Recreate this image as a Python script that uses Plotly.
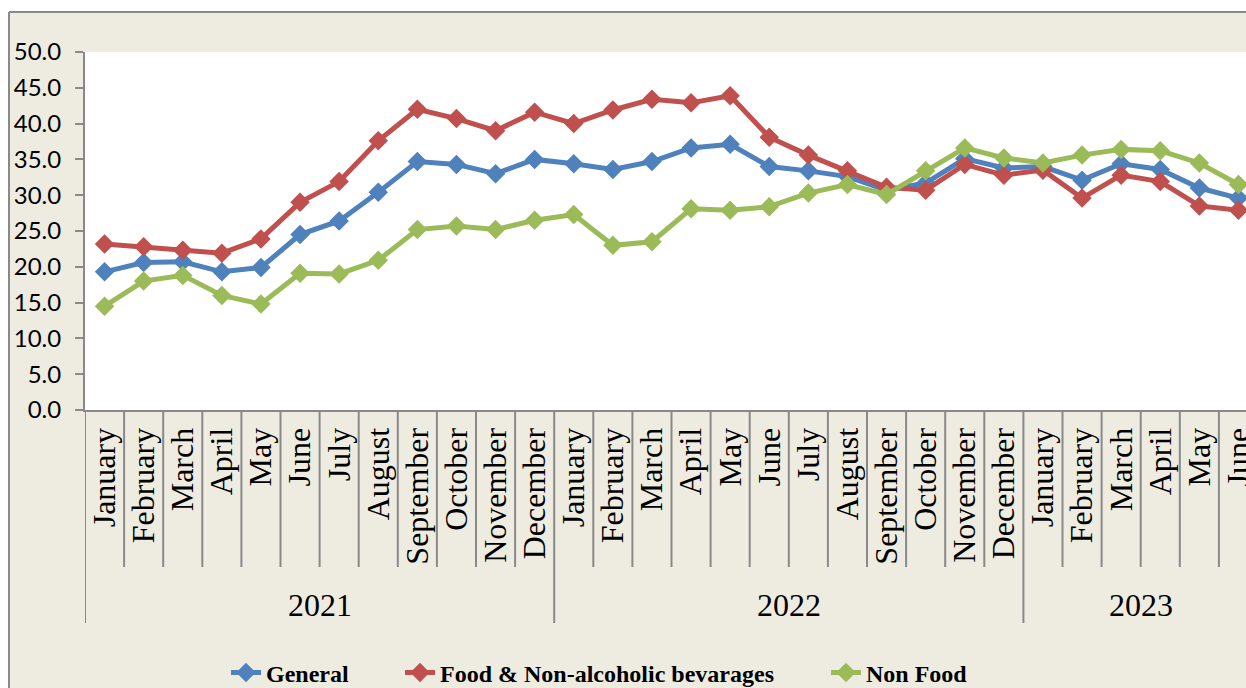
import plotly.graph_objects as go

months = ["January", "February", "March", "April", "May", "June", "July",
          "August", "September", "October", "November", "December"]
years = ["2021", "2022", "2023"]
months_per_year = [12, 12, 6]
month_labels = months + months + months[:6]

general = [19.3, 20.6, 20.7, 19.3, 19.9, 24.5, 26.4, 30.4, 34.7, 34.3, 33.0, 35.0,
           34.4, 33.6, 34.7, 36.6, 37.1, 34.0, 33.4, 32.6, 30.7, 31.7, 35.1, 33.8,
           34.0, 32.1, 34.4, 33.6, 31.0, 29.6]
food = [23.2, 22.8, 22.3, 21.9, 23.9, 29.0, 31.9, 37.6, 42.0, 40.7, 39.0, 41.6,
        40.0, 41.9, 43.4, 42.9, 43.9, 38.1, 35.6, 33.4, 31.1, 30.7, 34.3, 32.8,
        33.5, 29.6, 32.8, 31.9, 28.5, 27.9]
non_food = [14.5, 18.0, 18.8, 16.0, 14.8, 19.1, 19.0, 20.9, 25.2, 25.7, 25.2, 26.5,
            27.3, 23.0, 23.5, 28.1, 27.9, 28.4, 30.3, 31.5, 30.1, 33.4, 36.6, 35.2,
            34.5, 35.6, 36.4, 36.2, 34.5, 31.5]

series = [("General", general, "#4F81BD", "legend", 266),
          ("Food & Non-alcoholic bevarages", food, "#C0504D", "legend2", 440),
          ("Non Food", non_food, "#9BBB59", "legend3", 866)]

W, H = 1246, 688
plot_left, plot_top, plot_bottom = 85, 52, 410
L, T, B = plot_left, plot_top, H - plot_bottom
plot_w, plot_h = W - L, plot_bottom - plot_top
step = 39.1  # px per month in the reference
x_end = -0.5 + plot_w / step

def px_x(p):
    return (p - plot_left) / plot_w

def px_y(p):
    return (plot_bottom - p) / plot_h

x = list(range(len(month_labels)))
fig = go.Figure()
for name, vals, col, leg, _ in series:
    fig.add_trace(go.Scatter(x=x, y=vals, name=name, mode="lines+markers", legend=leg,
                             line=dict(color=col, width=5),
                             marker=dict(symbol="diamond", size=15, color=col)))

grey = "#898989"
shapes = []
# frame of the chart area
shapes.append(dict(type="rect", xref="paper", yref="paper", layer="below",
                   x0=px_x(-20), x1=px_x(1300), y0=px_y(12), y1=px_y(-20),
                   fillcolor="white", line_width=0))
shapes.append(dict(type="rect", xref="paper", yref="paper", layer="below",
                   x0=px_x(-20), x1=px_x(8), y0=px_y(720), y1=px_y(-20),
                   fillcolor="white", line_width=0))
shapes.append(dict(type="line", xref="paper", yref="paper", layer="below",
                   x0=px_x(9), x1=px_x(1300), y0=px_y(12), y1=px_y(12),
                   line=dict(color=grey, width=2)))
shapes.append(dict(type="line", xref="paper", yref="paper", layer="below",
                   x0=px_x(9), x1=px_x(9), y0=px_y(12), y1=px_y(720),
                   line=dict(color=grey, width=2)))

# category dividers below the axis
year_starts = [sum(months_per_year[:k]) for k in range(len(years))]
for i in x:
    depth = 213 if i in year_starts else 157
    shapes.append(dict(type="line", xref="x", yref="paper", layer="above",
                       x0=i - 0.5, x1=i - 0.5, y0=0, y1=-depth / plot_h,
                       line=dict(color=grey, width=2)))

annotations = []
for yr, start, n in zip(years, year_starts, months_per_year):
    annotations.append(dict(x=start + (n - 1) / 2, xref="x", y=0, yref="paper",
                            yanchor="middle", yshift=-195, text=yr, showarrow=False,
                            font=dict(family="Liberation Serif", size=32, color="black")))

legend_font = dict(family="Liberation Serif", size=24, color="black", weight="bold")
legends = {}
for _, _, _, leg, text_x in series:
    legends[leg] = dict(orientation="h", x=px_x(text_x - 40), xanchor="left",
                        y=px_y(673), yanchor="middle", bgcolor="rgba(0,0,0,0)",
                        font=legend_font)

fig.update_layout(
    width=W, height=H,
    margin=dict(l=L, r=0, t=T, b=B, autoexpand=False),
    paper_bgcolor="#EEECE1", plot_bgcolor="white",
    shapes=shapes, annotations=annotations,
    showlegend=True,
    **legends,
)
fig.update_xaxes(range=[-0.5, x_end], tickmode="array", tickvals=x, ticktext=month_labels,
                 tickangle=-90, ticks="", showgrid=False, zeroline=False,
                 showline=True, linecolor=grey, linewidth=2, ticklabelstandoff=3,
                 ticklabeloverflow="allow",
                 tickfont=dict(family="Liberation Serif", size=32, color="black"))
fig.update_yaxes(range=[0, 50], dtick=5, tickformat=".1f", ticks="outside", ticklen=8,
                 tickcolor=grey, tickwidth=2, showgrid=False, zeroline=False,
                 showline=True, linecolor=grey, linewidth=2, ticklabelstandoff=9,
                 tickfont=dict(family="Lato", size=24, color="black"))

# drop the default page margin / scrollbars so the figure fills the window
page_css = ("document.documentElement.style.margin = '0';"
            "document.body.style.margin = '0';"
            "document.documentElement.style.overflow = 'hidden';"
            "document.body.style.overflow = 'hidden';")
fig.write_html("out.html", config={"displayModeBar": False}, post_script=page_css)
